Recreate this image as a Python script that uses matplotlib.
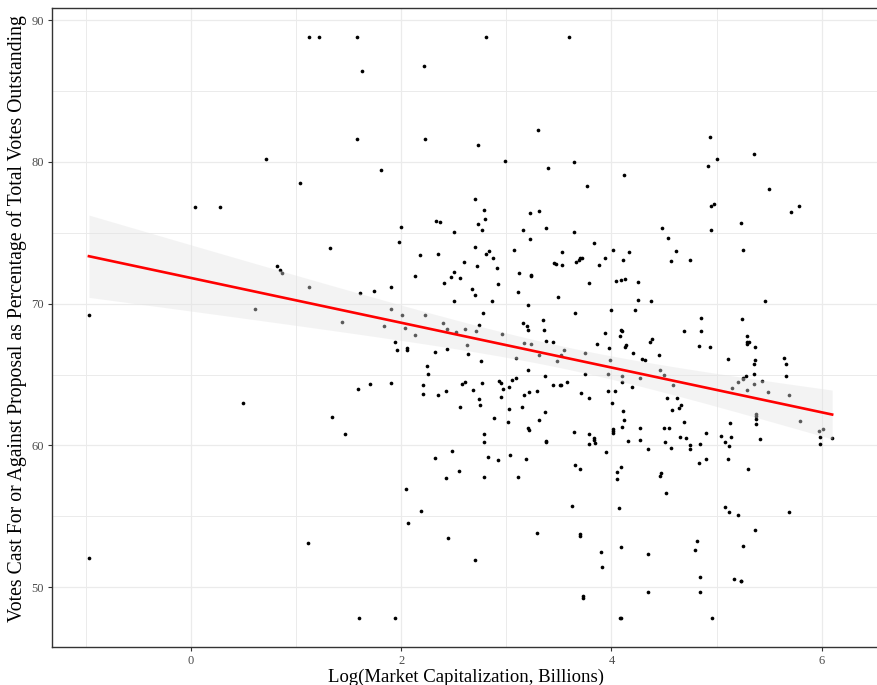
# scatter of vote percentage vs log market cap, with linear fit + 95% band
import numpy as np
import matplotlib.pyplot as plt

# log(market cap, billions)
log_mcap = [
    0.04, 0.28, 1.12, 1.22, 1.58, 2.81, 3.60, 1.63, 2.22, 1.58, 2.23, 3.30,
    0.71, 1.81, 1.04, 2.33, 2.37, 2.73, 2.99, 3.64, 3.40, 4.12, 3.77,
    2.70, 2.79, 2.80, 3.23, 3.31, 2.73, 4.94, 5.36, 5.00, 4.92, 5.50, 4.95,
    4.98, 5.71, 5.78, 5.23,
    -0.97, 0.61, 0.50, -0.97,
    2.00, 2.50, 1.32, 1.98, 2.18, 2.35, 2.60, 0.82, 0.845, 0.864, 2.13, 2.41,
    2.47, 2.50, 2.56, 1.12, 1.61, 1.74, 1.90, 2.50, 1.90, 2.01, 2.23, 1.44,
    1.84, 2.04, 2.40, 2.44, 2.52, 2.13, 1.94, 1.965, 2.06, 2.06, 2.32, 2.44,
    2.25, 2.26, 1.59, 1.70, 1.90, 2.21, 2.21, 2.35, 2.43, 2.58, 2.56, 1.34, 1.47,
    2.77, 3.16, 3.38, 3.64, 4.48, 4.54, 2.70, 2.84, 2.81, 2.87, 3.07, 3.23,
    3.53, 3.83, 4.02, 4.17, 2.72, 2.91, 3.45, 3.47, 3.53, 3.66, 3.69, 3.70,
    3.72, 3.88, 3.94, 4.11, 3.12, 3.235, 3.24, 3.79, 4.04, 4.09, 4.13, 4.25,
    2.67, 2.70, 2.92, 3.11, 2.86, 3.49, 4.25, 4.38, 3.21, 2.78, 3.65, 4.00,
    4.22, 3.35, 3.16, 3.20, 3.21, 3.36, 2.74, 2.61, 2.71, 2.96, 4.09, 4.10,
    3.94, 4.08, 4.39, 4.37, 3.38, 3.44, 3.17, 3.235, 2.63, 3.86, 4.14, 4.13,
    3.98, 3.55, 3.52, 3.31, 2.64, 3.75, 4.21, 4.45, 4.29, 4.32, 3.09, 3.48,
    3.99, 2.76, 3.21, 3.75, 3.97, 4.10, 4.10, 4.20, 4.27, 4.46, 4.50, 3.37,
    3.09, 3.05, 3.58, 3.44, 3.51, 3.52, 3.29, 3.22, 3.17, 3.03, 2.97, 2.93,
    2.95, 2.61, 2.765, 2.68, 2.74, 2.75, 2.95, 3.03, 3.15, 3.37, 3.02, 2.88,
    3.31, 3.21, 3.22, 2.79, 3.64, 3.79, 3.71, 3.79, 3.97, 4.03, 4.01, 4.11,
    4.12, 4.10, 4.02, 4.02, 4.02, 4.27, 4.53, 4.50,
    4.95, 4.61, 4.57, 4.75, 5.25, 5.46, 4.85, 5.24, 4.69, 4.85, 4.83, 4.94,
    5.29, 5.29, 5.31, 5.29, 5.37, 5.11, 5.37, 5.36, 5.64, 5.66, 5.66, 5.36,
    5.28, 5.25, 5.25, 5.43, 5.36, 5.20, 5.15, 5.29, 5.49, 5.69, 4.59, 4.62,
    4.66, 4.64, 4.58, 4.69, 4.55, 4.90, 5.13, 5.38, 5.38, 5.38, 5.375, 5.79,
    5.975, 6.01,
    5.98, 5.98, 6.10, 4.51, 4.57, 4.65, 4.71, 4.75, 4.75, 4.84, 4.83, 4.90,
    5.04, 5.08, 5.12, 5.14, 5.41, 5.11, 5.30, 4.52, 5.08, 5.12, 5.20, 5.69,
    5.37, 4.81, 4.80, 5.25, 4.84, 5.17, 5.23, 5.235, 4.84, 4.96,
    2.79, 3.38, 3.38, 3.79, 3.83, 3.83, 3.84, 4.16, 4.27, 4.35, 2.55, 2.83,
    2.92, 3.04, 3.19, 2.79, 3.11, 3.65, 3.70, 3.95, 4.09, 4.05, 4.05, 4.47,
    4.46, 3.63, 4.07, 3.29, 3.70, 3.70, 4.09, 4.35, 3.90, 3.91, 2.70, 3.73,
    3.73, 4.35, 4.08, 4.09,
    2.32, 2.48, 2.43, 2.05, 2.19, 2.07, 2.45, 1.11, 1.60, 1.94,
]

# votes cast for/against as % of outstanding
vote_pct = [
    76.85, 76.85, 88.8, 88.8, 88.8, 88.8, 88.8, 86.4, 86.8, 81.65, 81.65, 82.25,
    80.2, 79.4, 78.5, 75.8, 75.75, 81.2, 80.1, 80.0, 79.6, 79.1, 78.3,
    77.4, 76.6, 76.0, 76.4, 76.55, 75.6, 81.75, 80.55, 80.2, 79.7, 78.1, 76.9,
    77.05, 76.5, 76.9, 75.7,
    69.2, 69.65, 63.0, 52.03,
    75.42, 75.07, 73.94, 74.33, 73.41, 73.53, 72.95, 72.69, 72.35, 72.17, 71.98, 71.48,
    71.9, 72.21, 71.79, 71.2, 70.76, 70.92, 71.15, 70.16, 69.60, 69.17, 69.2, 68.73,
    68.45, 68.28, 68.66, 68.21, 67.97, 67.79, 67.31, 66.75, 66.84, 66.73, 66.61, 66.80,
    65.57, 65.07, 63.97, 64.30, 64.42, 64.23, 63.66, 63.59, 63.87, 64.35, 62.70, 61.97, 60.79,
    75.23, 75.21, 75.37, 75.07, 75.32, 74.64, 74.01, 73.75, 73.51, 73.23, 73.77, 74.55,
    73.63, 74.31, 73.77, 73.63, 72.69, 72.54, 72.88, 72.81, 72.76, 72.97, 73.1, 73.2,
    73.25, 72.76, 73.25, 73.06, 72.19, 72.0, 71.95, 71.48, 71.63, 71.70, 71.77, 71.56,
    71.01, 70.64, 71.37, 70.85, 70.16, 70.50, 70.26, 70.19, 69.88, 69.34, 69.31, 69.55,
    69.55, 68.87, 68.64, 68.42, 68.14, 68.16, 68.52, 68.21, 68.07, 67.83, 68.16, 68.1,
    67.96, 67.69, 67.50, 67.31, 67.36, 67.27, 67.24, 67.17, 67.08, 67.15, 67.10, 66.91,
    66.87, 66.73, 66.40, 66.40, 66.42, 66.52, 66.54, 66.38, 66.09, 66.04, 66.14, 65.99,
    66.06, 65.92, 65.34, 65.03, 65.03, 64.89, 64.44, 64.13, 64.77, 65.29, 64.96, 64.89,
    64.79, 64.61, 64.49, 64.23, 64.28, 64.25, 63.81, 63.78, 63.55, 64.09, 63.95, 64.51,
    64.42, 64.44, 64.37, 63.92, 63.26, 62.84, 63.43, 62.58, 62.74, 62.39, 61.68, 61.92,
    61.78, 61.22, 61.10, 60.79, 60.93, 60.79, 63.73, 63.33, 63.81, 63.81, 62.98, 62.42,
    61.78, 61.31, 61.14, 61.02, 60.88, 61.26, 63.31, 61.24,
    75.23, 73.70, 72.99, 73.06, 73.79, 70.16, 68.99, 68.92, 68.09, 68.04, 66.98, 66.96,
    67.69, 67.31, 67.27, 67.15, 66.94, 66.11, 66.02, 65.71, 66.16, 65.71, 64.89, 65.03,
    64.91, 64.79, 64.72, 64.56, 64.30, 64.44, 64.04, 63.90, 63.80, 63.57, 64.28, 63.31,
    62.86, 62.63, 62.49, 61.68, 61.26, 60.86, 61.61, 62.18, 62.04, 61.87, 61.54, 61.71,
    61.05, 61.17,
    60.60, 60.11, 60.53, 60.25, 59.85, 60.58, 60.51, 60.01, 59.73, 60.08, 58.78, 59.02,
    60.67, 60.22, 59.94, 60.58, 60.44, 59.02, 58.36, 56.62, 55.68, 55.32, 55.11, 55.32,
    54.03, 53.27, 52.59, 52.92, 50.73, 50.54, 50.45, 50.4, 49.65, 47.81,
    60.25, 60.32, 60.25, 60.08, 60.51, 60.39, 60.16, 60.32, 60.37, 59.78, 58.22, 59.17,
    59.0, 59.35, 59.02, 57.75, 57.8, 58.65, 58.36, 59.5, 58.48, 58.13, 57.63, 58.08,
    57.82, 55.75, 55.61, 53.79, 53.72, 53.62, 52.85, 52.31, 52.45, 51.44, 51.91, 49.34,
    49.24, 49.67, 47.85, 47.8,
    59.14, 59.63, 57.73, 56.9, 55.4, 54.54, 53.46, 53.13, 47.81, 47.81,
]

x = np.array(log_mcap)
y = np.array(vote_pct)

# linear fit and 95% confidence band (like geom_smooth(method="lm"))
slope, intercept = np.polyfit(x, y, 1)
n = len(x)
resid = y - (intercept + slope * x)
s = np.sqrt(np.sum(resid ** 2) / (n - 2))
sxx = np.sum((x - x.mean()) ** 2)
xs = np.linspace(x.min(), x.max(), 200)
ys = intercept + slope * xs
se = s * np.sqrt(1 / n + (xs - x.mean()) ** 2 / sxx)
t = 1.967

plt.rcParams['font.family'] = ['Liberation Serif', 'DejaVu Serif']

fig = plt.figure(figsize=(8.77, 6.85), dpi=100)
# panel runs off the right edge of the image, like the original crop
ax = fig.add_axes([0.059, 0.055, 0.945, 0.933])

ax.scatter(x, y, s=7, color='black', linewidths=0, zorder=2)
ax.fill_between(xs, ys - t * se, ys + t * se, color='#E3E3E3', alpha=0.4,
                linewidth=0, zorder=3)
ax.plot(xs, ys, color='red', linewidth=1.9, zorder=4)

xr = x.max() - x.min()
yr = y.max() - y.min()
ax.set_xlim(x.min() - 0.05 * xr, 6.56)
ax.set_ylim(y.min() - 0.05 * yr, y.max() + 0.05 * yr)

ax.set_xticks([0, 2, 4, 6])
ax.set_xticks([-1, 1, 3, 5], minor=True)
ax.set_yticks([50, 60, 70, 80, 90])
ax.set_yticks([55, 65, 75, 85], minor=True)
ax.grid(True, which='major', color='#EBEBEB', linewidth=0.9, zorder=0)
ax.grid(True, which='minor', color='#EBEBEB', linewidth=0.7, zorder=0)
ax.set_axisbelow(True)

ax.tick_params(which='major', length=3, color='#333333', labelcolor='#4D4D4D',
               labelsize=9, width=0.8, pad=2.5)
ax.tick_params(which='minor', length=0)
for sp in ax.spines.values():
    sp.set_color('#333333')
    sp.set_linewidth(1.0)

ax.set_xlabel("Log(Market Capitalization, Billions)", fontsize=13.5, labelpad=1.5)
ax.set_ylabel("Votes Cast For or Against Proposal as Percentage of Total Votes Outstanding",
              fontsize=14.2)
ax.yaxis.set_label_coords(-0.030, 0.515)

fig.savefig("out.png", dpi=100)
